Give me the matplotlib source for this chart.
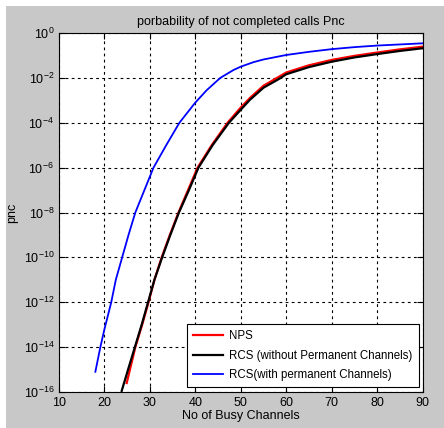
import matplotlib
matplotlib.use('Agg')
import matplotlib.pyplot as plt
import numpy as np

# values, y given as log10(pnc)
nps_x = [24.9, 26.8, 28.3, 29.7, 31.0, 32.6, 34.4, 36.3, 38.4, 40.5, 43.6, 47.1,
         50, 52, 55, 58.4, 60, 65, 70, 75, 80, 85, 90]
nps_logy = [-15.6, -14.0, -13.0, -12.0, -11.0, -10.0, -9.0, -8.0, -7.0, -6.0, -5.0, -4.0,
            -3.32, -2.9, -2.35, -1.95, -1.76, -1.44, -1.2, -1.02, -0.87, -0.73, -0.61]

rcs_x = [23.8, 25.2, 26.7, 28.2, 29.6, 31.0, 32.7, 34.5, 36.4, 38.6, 40.7, 43.8, 47.4,
         50, 52, 55, 58.4, 60, 65, 70, 75, 80, 85, 90]
rcs_logy = [-15.95, -15.0, -14.0, -13.0, -12.0, -11.0, -10.0, -9.0, -8.0, -7.0, -6.0, -5.0, -4.0,
            -3.42, -2.98, -2.44, -2.05, -1.84, -1.52, -1.28, -1.09, -0.94, -0.8, -0.68]

rcsp_x = [18.0, 19.1, 20.0, 21.5, 22.5, 23.9, 25.3, 26.8, 28.8, 30.8, 33.6, 36.5,
          40, 42.5, 45.5, 48.4, 50, 52.8, 55, 60, 65, 70, 75, 80, 85, 90]
rcsp_logy = [-15.1, -14.0, -13.2, -12.0, -11.0, -10.0, -9.0, -8.0, -7.0, -6.0, -5.0, -4.0,
             -3.1, -2.55, -2.0, -1.65, -1.5, -1.3, -1.18, -0.98, -0.84, -0.72, -0.63, -0.56, -0.51, -0.46]

labels = ['NPS', 'RCS (without Permanent Channels)', 'RCS(with permanent Channels)']

plt.rcParams['font.family'] = ['Liberation Sans', 'DejaVu Sans']

fig = plt.figure(figsize=(4.44, 4.28), dpi=100)
fig.patch.set_facecolor('white')
# grey matlab figure background with a thin white frame top/left
fig.patches.append(plt.Rectangle((6/444, 0), 1, 1 - 6/428, transform=fig.transFigure,
                                 facecolor='#c8c8c8', edgecolor='none', zorder=-10))

ax = fig.add_axes([59/444, 36/428, 363.5/444, 359/428])
ax.semilogy(nps_x, 10 ** np.array(nps_logy), color='red', lw=1.6, label=labels[0])
ax.semilogy(rcs_x, 10 ** np.array(rcs_logy), color='black', lw=1.6, label=labels[1])
ax.semilogy(rcsp_x, 10 ** np.array(rcsp_logy), color='blue', lw=1.3, label=labels[2])

ax.set_xlim(10, 90)
ax.set_ylim(1e-16, 1)
ax.set_xticks(range(10, 91, 10))
ax.set_yticks([10.0 ** -k for k in range(0, 17, 2)])
ax.minorticks_off()
ax.tick_params(direction='in', labelsize=9, length=4, top=True, right=True)
ax.grid(True, color='black', linestyle=(0, (2.5, 3)), linewidth=0.8)
for s in ax.spines.values():
    s.set_linewidth(0.8)

ax.set_title('porbability of not completed calls Pnc', fontsize=9)
ax.set_xlabel('No of Busy Channels', fontsize=9, labelpad=1)
ax.set_ylabel('pnc', fontsize=9)

leg = ax.legend(loc='lower right', bbox_to_anchor=(0.989, 0.014), borderaxespad=0,
                fontsize=8.3, handlelength=2.6, handletextpad=0.6, fancybox=False,
                framealpha=1, edgecolor='black', labelspacing=0.65, borderpad=0.5)
leg.get_frame().set_linewidth(0.8)

fig.savefig('out.png', dpi=100, facecolor=fig.get_facecolor())
